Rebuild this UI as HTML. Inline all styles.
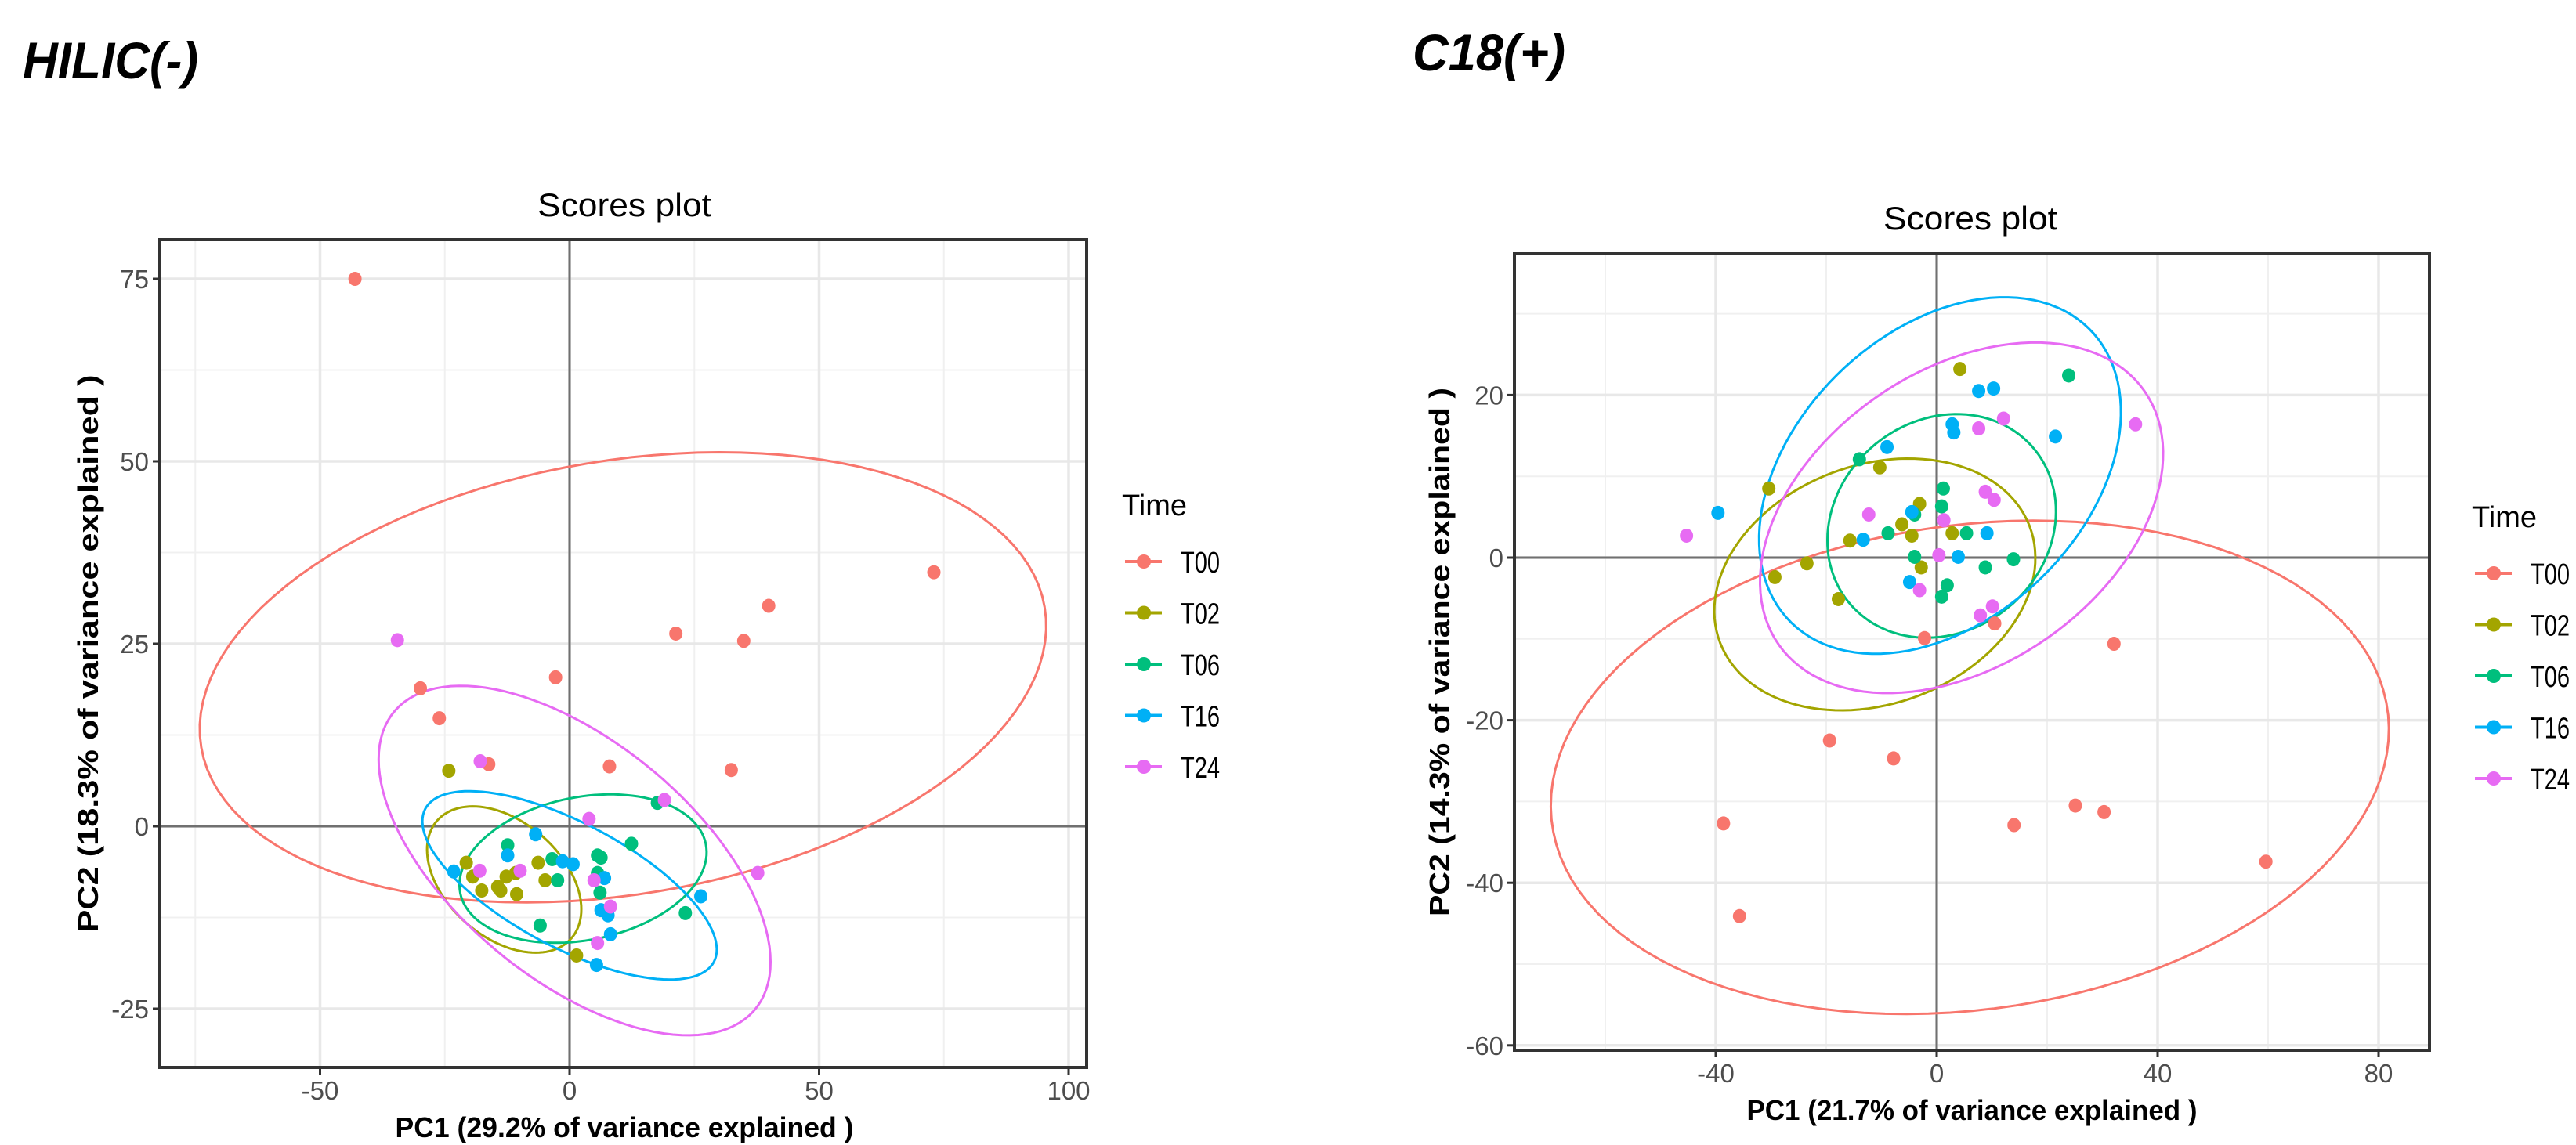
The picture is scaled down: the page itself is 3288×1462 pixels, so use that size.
<!DOCTYPE html>
<html>
<head>
<meta charset="utf-8">
<style>
html,body{margin:0;padding:0;background:#fff;}
svg{display:block;}
text{font-family:"Liberation Sans",sans-serif;}
</style>
</head>
<body>
<svg id="fig" width="3288" height="1462" viewBox="0 0 3288 1462" xmlns="http://www.w3.org/2000/svg">
  <rect width="3288" height="1462" fill="#fff"/>
  <text x="29" y="100" font-size="66" font-weight="bold" font-style="italic" textLength="224" lengthAdjust="spacingAndGlyphs">HILIC(-)</text>
  <text x="1803" y="90" font-size="66" font-weight="bold" font-style="italic" textLength="195" lengthAdjust="spacingAndGlyphs">C18(+)</text>
  <g id="left"></g>
  <g id="right"></g>
</svg>
<script>
// ---------- shared ----------
const groups = ["T00","T02","T06","T16","T24"];
const groupColors = ["#F8766D","#A3A500","#00BF7D","#00B0F6","#E76BF3"];

// ---------- HILIC(-) data ----------
const hilicXTicks = [-50, 0, 50, 100];
const hilicYTicks = [-25, 0, 25, 50, 75];
const hilicXMinor = [-75, -25, 25, 75];
const hilicYMinor = [-12.5, 12.5, 37.5, 62.5];
const hilicT00 = [[-43,75],[73,34.8],[39.9,30.2],[34.9,25.4],[21.3,26.4],[-2.8,20.4],[-29.9,18.9],[-26.1,14.8],[-16.2,8.5],[8.0,8.2],[32.4,7.7]];
const hilicT02 = [[-24.2,7.6],[-20.7,-5.0],[-19.4,-6.9],[-17.6,-8.8],[-14.4,-8.3],[-13.8,-8.8],[-12.7,-6.9],[-10.6,-9.3],[-6.3,-5.0],[-4.9,-7.4],[-10.8,-6.4],[1.4,-17.7]];
const hilicT06 = [[-12.4,-2.6],[-5.9,-13.6],[-3.5,-4.5],[-2.4,-7.4],[5.6,-4.0],[6.3,-4.3],[5.6,-6.4],[6.1,-9.1],[12.4,-2.4],[17.6,3.2],[23.2,-11.9]];
const hilicT16 = [[-23.2,-6.2],[-12.4,-4.0],[-6.8,-1.1],[-1.4,-4.8],[0.7,-5.2],[7.0,-7.1],[6.3,-11.5],[7.7,-12.2],[8.2,-14.8],[5.4,-19.0],[26.3,-9.6]];
const hilicT24 = [[-34.5,25.5],[-17.9,8.9],[-18.0,-6.1],[-9.9,-6.1],[3.9,1.0],[19.0,3.6],[4.9,-7.4],[5.6,-16.0],[8.2,-11.0],[37.7,-6.4]];
// ellipses: [centerX, centerY, axis1X, axis1Y, axis2X, axis2Y] in data units
const hilicEllipses = [
  [10.7, 20.4, 84.5, 9.6, 7.2, -29.3],
  [-13.1, -7.3, 13.4, -8.1, 7.7, 5.9],
  [2.7, -5.8, 24.6, 3.35, 2.8, -9.6],
  [0, -8.1, 28.9, -10.5, 5.9, 7.5],
  [1.0, -4.7, 35.9, -20.6, 15.9, 12.2]
];

// ---------- C18(+) data ----------
const c18XTicks = [-40, 0, 40, 80];
const c18YTicks = [-60, -40, -20, 0, 20];
const c18XMinor = [-60, -20, 20, 60];
const c18YMinor = [-50, -30, -10, 10, 30];
const c18T00 = [[-2.2,-9.9],[10.5,-8.1],[32.1,-10.6],[-19.4,-22.5],[-7.8,-24.7],[-38.6,-32.7],[-35.7,-44.1],[14.0,-32.9],[25.1,-30.5],[30.3,-31.3],[59.6,-37.4]];
const c18T02 = [[4.2,23.2],[-10.3,11.1],[-30.4,8.5],[-3.1,6.6],[-6.3,4.1],[-4.5,2.7],[2.8,3.0],[-15.7,2.1],[-23.5,-0.7],[-29.3,-2.4],[-17.8,-5.1],[-2.8,-1.2]];
const c18T06 = [[23.9,22.4],[-14.0,12.1],[1.2,8.5],[0.9,6.3],[-4.0,5.3],[-8.8,3.0],[5.4,3.0],[-4.0,0.1],[8.8,-1.2],[13.9,-0.2],[1.9,-3.4],[0.9,-4.8]];
const c18T16 = [[-39.6,5.5],[-9.0,13.6],[7.6,20.5],[10.3,20.8],[2.8,16.4],[3.1,15.4],[21.5,14.9],[-4.5,5.6],[-13.3,2.2],[9.1,3.0],[3.9,0.1],[-4.9,-3.0]];
const c18T24 = [[-45.3,2.7],[-12.3,5.3],[7.6,15.9],[12.1,17.1],[36.0,16.4],[8.8,8.1],[10.4,7.1],[1.3,4.6],[0.4,0.3],[-3.1,-4.0],[10.1,-6.0],[7.9,-7.1]];
const c18Ellipses = [
  [6.0, -25.8, 75.5, 1.7, -7.5, -30.3],
  [-11.2, -3.3, 24.2, 11.1, 16.1, -10.8],
  [0.9, 3.9, 4.5, 13.7, 20.2, -1.2],
  [0.6, 10.1, 22.4, 20.3, 23.9, -8.3],
  [4.5, 4.9, 25.4, 19.9, 26.2, -8.3]
];

const NS = "http://www.w3.org/2000/svg";
function mk(parent, tag, attrs, txt) {
  const e = document.createElementNS(NS, tag);
  for (const k in attrs) e.setAttribute(k, attrs[k]);
  if (txt !== undefined) e.textContent = txt;
  parent.appendChild(e);
  return e;
}

function drawPanel(g, cfg, d) {
  const sx = v => cfg.x0 + v * cfg.kx;
  const sy = v => cfg.y0 - v * cfg.ky;
  mk(g, "rect", {x: cfg.L, y: cfg.T, width: cfg.R - cfg.L, height: cfg.B - cfg.T, fill: "#fff"});
  const grid = mk(g, "g", {});
  
  
  d.xMinor.forEach(v => mk(grid, "line", {x1: sx(v), x2: sx(v), y1: cfg.T, y2: cfg.B, stroke: "#f0f0f0", "stroke-width": 2}));
  d.yMinor.forEach(v => mk(grid, "line", {x1: cfg.L, x2: cfg.R, y1: sy(v), y2: sy(v), stroke: "#f0f0f0", "stroke-width": 2}));
  d.xTicks.forEach(v => mk(grid, "line", {x1: sx(v), x2: sx(v), y1: cfg.T, y2: cfg.B, stroke: "#e8e8e8", "stroke-width": 3.5}));
  d.yTicks.forEach(v => mk(grid, "line", {x1: cfg.L, x2: cfg.R, y1: sy(v), y2: sy(v), stroke: "#e8e8e8", "stroke-width": 3.5}));
  const zx = mk(g, "line", {x1: sx(0), x2: sx(0), y1: cfg.T, y2: cfg.B, stroke: "#707070", "stroke-width": 3});
  
  
  const zy = mk(g, "line", {x1: cfg.L, x2: cfg.R, y1: sy(0), y2: sy(0), stroke: "#707070", "stroke-width": 3});
  
  
  d.ellipses.forEach((el, i) => {
    let pts = [];
    for (let k = 0; k <= 120; k++) {
      const t = k / 120 * 2 * Math.PI;
      const vx = el[0] + el[2] * Math.cos(t) + el[4] * Math.sin(t);
      const vy = el[1] + el[3] * Math.cos(t) + el[5] * Math.sin(t);
      pts.push(sx(vx).toFixed(1) + "," + sy(vy).toFixed(1));
    }
    const p = mk(g, "polyline", {points: pts.join(" "), fill: "none", stroke: groupColors[i], "stroke-width": 3});
    
    
  });
  d.series.forEach((s, i) => {
    const sg = mk(g, "g", {});
    
    
    s.forEach(pt => {
      const c = mk(sg, "ellipse", {cx: sx(pt[0]), cy: sy(pt[1]), rx: 8.5, ry: 9, fill: groupColors[i]});
      
      
    });
  });
  const b = mk(g, "rect", {x: cfg.L, y: cfg.T, width: cfg.R - cfg.L, height: cfg.B - cfg.T, fill: "none", stroke: "#333", "stroke-width": 4});
  
  
  d.xTicks.forEach(v => {
    mk(g, "line", {x1: sx(v), x2: sx(v), y1: cfg.B, y2: cfg.B + 9, stroke: "#333", "stroke-width": 3});
    const t = mk(g, "text", {x: sx(v), y: cfg.B + 41, "font-size": 33, fill: "#4d4d4d", "text-anchor": "middle"}, String(v));
    
    
  });
  d.yTicks.forEach(v => {
    mk(g, "line", {x1: cfg.L - 9, x2: cfg.L, y1: sy(v), y2: sy(v), stroke: "#333", "stroke-width": 3});
    const t = mk(g, "text", {x: cfg.L - 14, y: sy(v) + 12, "font-size": 33, fill: "#4d4d4d", "text-anchor": "end"}, String(v));
    
    
  });
  const tt = mk(g, "text", {x: cfg.titleX, y: cfg.titleY, "font-size": 42, "text-anchor": "middle", textLength: 222, lengthAdjust: "spacingAndGlyphs"}, "Scores plot");
  
  
  const xt = mk(g, "text", {x: cfg.xTitleX, y: cfg.xTitleY, "font-size": 36, "font-weight": "bold", "text-anchor": "middle", textLength: cfg.xTitleLen, lengthAdjust: "spacingAndGlyphs"}, d.xTitle);
  
  
  const cy = (cfg.T + cfg.B) / 2;
  const yt = mk(g, "text", {x: 0, y: 0, "font-size": 36, "font-weight": "bold", "text-anchor": "middle", textLength: cfg.yTitleLen, lengthAdjust: "spacingAndGlyphs", transform: "translate(" + cfg.yTitleX + "," + cy + ") rotate(-90)"}, d.yTitle);
  
  
  const lg = mk(g, "g", {});
  
  
  const lt = mk(lg, "text", {x: cfg.legX, y: cfg.legTitleY, "font-size": 38}, "Time");
  
  
  groups.forEach((gname, i) => {
    const y = cfg.legY0 + i * cfg.legStep;
    const e = mk(lg, "g", {});
    
    
    mk(e, "line", {x1: cfg.legX + 4, x2: cfg.legX + 51, y1: y, y2: y, stroke: groupColors[i], "stroke-width": 4});
    mk(e, "circle", {cx: cfg.legX + 28, cy: y, r: 9, fill: groupColors[i]});
    mk(e, "text", {x: cfg.legX + 75, y: y + 14, "font-size": 38, textLength: 50, lengthAdjust: "spacingAndGlyphs"}, gname);
  });
}

drawPanel(document.getElementById("left"),
  {L: 204, R: 1387, T: 306, B: 1363, x0: 727, kx: 6.37, y0: 1055, ky: 9.32,
   titleX: 797, titleY: 276, xTitleX: 797, xTitleY: 1452, xTitleLen: 585,
   yTitleX: 125, yTitleLen: 712, legX: 1432, legTitleY: 658, legY0: 717, legStep: 65.5},
  {xTicks: hilicXTicks, yTicks: hilicYTicks, xMinor: hilicXMinor, yMinor: hilicYMinor,
   series: [hilicT00, hilicT02, hilicT06, hilicT16, hilicT24], ellipses: hilicEllipses,
   xTitle: "PC1 (29.2% of variance explained )", yTitle: "PC2 (18.3% of variance explained )"});

drawPanel(document.getElementById("right"),
  {L: 1933, R: 3101, T: 324, B: 1341, x0: 2472, kx: 7.05, y0: 712, ky: 10.38,
   titleX: 2515, titleY: 293, xTitleX: 2517, xTitleY: 1430, xTitleLen: 575,
   yTitleX: 1850, yTitleLen: 675, legX: 3155, legTitleY: 673, legY0: 732, legStep: 65.5},
  {xTicks: c18XTicks, yTicks: c18YTicks, xMinor: c18XMinor, yMinor: c18YMinor,
   series: [c18T00, c18T02, c18T06, c18T16, c18T24], ellipses: c18Ellipses,
   xTitle: "PC1 (21.7% of variance explained )", yTitle: "PC2 (14.3% of variance explained )"});
</script>
</body>
</html>
